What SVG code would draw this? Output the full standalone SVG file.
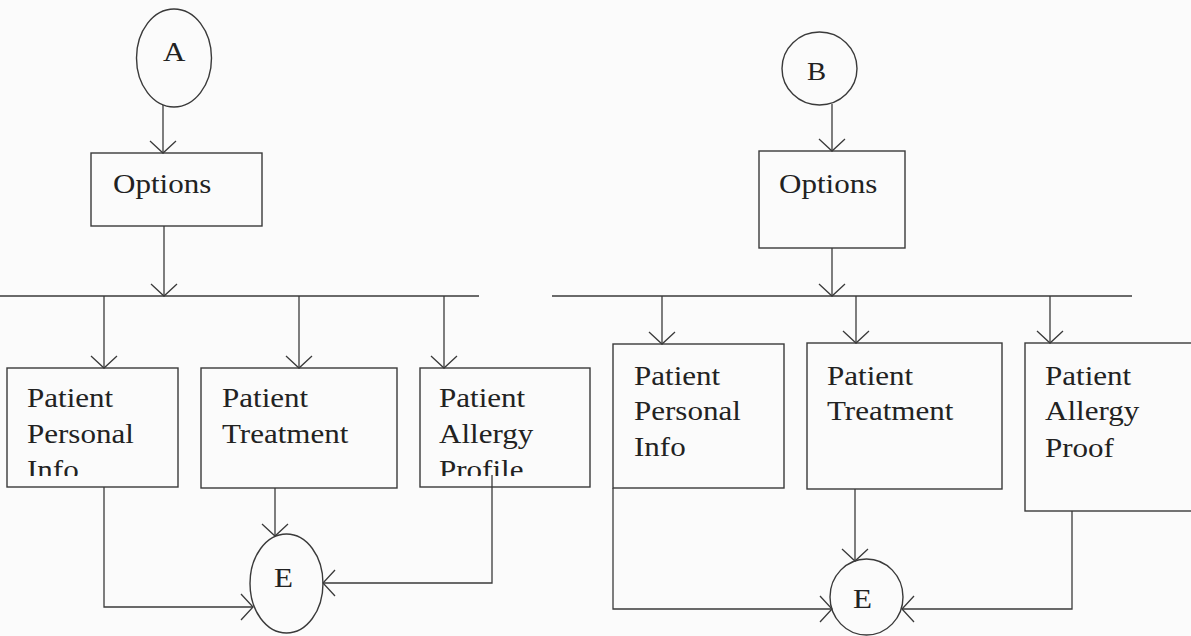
<svg xmlns="http://www.w3.org/2000/svg" width="1191" height="636" viewBox="0 0 1191 636">
  <defs>
    <marker id="arrow" viewBox="-14 -15 16 30" refX="0" refY="0" markerWidth="16" markerHeight="30" markerUnits="userSpaceOnUse" orient="auto">
      <path d="M-12,-13 L0,0 L-12,13" fill="none" stroke="#3a3a3a" stroke-width="1.3"/>
    </marker>
    <clipPath id="clipLeftRow">
      <rect x="0" y="300" width="600" height="176"/>
    </clipPath>
  </defs>
  <style>
    .box { fill: none; stroke: #3a3a3a; stroke-width: 1.4; }
    .term { fill: none; stroke: #3a3a3a; stroke-width: 1.4; }
    .wire { fill: none; stroke: #3a3a3a; stroke-width: 1.3; }
    .arr { marker-end: url(#arrow); }
    .lbl { font-family: "Liberation Serif", "Times New Roman", serif; font-size: 27px; fill: #222; }
  </style>

  <rect x="0" y="0" width="1191" height="636" fill="#fbfbfb"/>

  <!-- left chart -->
  <g id="a-start">
    <ellipse class="term" cx="174" cy="58" rx="37.5" ry="49"/>
    <text class="lbl" transform="translate(163,61) scale(1.15,1)">A</text>
  </g>
  <g id="a-options">
    <rect class="box" x="91" y="153" width="171" height="73"/>
    <text class="lbl" transform="translate(113,193) scale(1.15,1)">Options</text>
  </g>
  <g id="a-personal">
    <rect class="box" x="7" y="368" width="171" height="119"/>
    <g clip-path="url(#clipLeftRow)">
      <text class="lbl" transform="translate(27,407) scale(1.15,1)">Patient</text>
      <text class="lbl" transform="translate(27,443) scale(1.15,1)">Personal</text>
      <text class="lbl" transform="translate(27,479) scale(1.15,1)">Info</text>
    </g>
  </g>
  <g id="a-treatment">
    <rect class="box" x="201" y="368" width="196" height="120"/>
    <text class="lbl" transform="translate(222,407) scale(1.15,1)">Patient</text>
    <text class="lbl" transform="translate(222,443) scale(1.15,1)">Treatment</text>
  </g>
  <g id="a-allergy">
    <rect class="box" x="420" y="368" width="170" height="119"/>
    <g clip-path="url(#clipLeftRow)">
      <text class="lbl" transform="translate(439,407) scale(1.15,1)">Patient</text>
      <text class="lbl" transform="translate(439,443) scale(1.15,1)">Allergy</text>
      <text class="lbl" transform="translate(439,479) scale(1.15,1)">Profile</text>
    </g>
  </g>
  <g id="a-end">
    <ellipse class="term" cx="286.5" cy="583.5" rx="36.5" ry="49.5"/>
    <text class="lbl" transform="translate(274,587) scale(1.15,1)">E</text>
  </g>

  <!-- right chart -->
  <g id="b-start">
    <ellipse class="term" cx="819.5" cy="68.5" rx="37.5" ry="36.5"/>
    <text class="lbl" style="font-size:25px" transform="translate(807,80) scale(1.15,1)">B</text>
  </g>
  <g id="b-options">
    <rect class="box" x="759" y="151" width="146" height="97"/>
    <text class="lbl" transform="translate(779,193) scale(1.15,1)">Options</text>
  </g>
  <g id="b-personal">
    <rect class="box" x="613" y="344" width="171" height="144"/>
    <text class="lbl" transform="translate(634,385) scale(1.15,1)">Patient</text>
    <text class="lbl" transform="translate(634,420) scale(1.15,1)">Personal</text>
    <text class="lbl" transform="translate(634,456) scale(1.15,1)">Info</text>
  </g>
  <g id="b-treatment">
    <rect class="box" x="807" y="343" width="195" height="146"/>
    <text class="lbl" transform="translate(827,385) scale(1.15,1)">Patient</text>
    <text class="lbl" transform="translate(827,420) scale(1.15,1)">Treatment</text>
  </g>
  <g id="b-allergy">
    <rect class="box" x="1025" y="343" width="190" height="168"/>
    <text class="lbl" transform="translate(1045,385) scale(1.15,1)">Patient</text>
    <text class="lbl" transform="translate(1045,420) scale(1.15,1)">Allergy</text>
    <text class="lbl" transform="translate(1045,457) scale(1.15,1)">Proof</text>
  </g>
  <g id="b-end">
    <ellipse class="term" cx="866.5" cy="597" rx="36.5" ry="38"/>
    <text class="lbl" transform="translate(853,608) scale(1.15,1)">E</text>
  </g>

  <g id="connectors">
    <!-- left chart -->
    <path class="wire arr" d="M163,105 L163,153"/>
    <path class="wire arr" d="M164,226 L164,296"/>
    <path class="wire" d="M0,296 L479,296"/>
    <path class="wire arr" d="M104,296 L104,368"/>
    <path class="wire arr" d="M299,296 L299,368"/>
    <path class="wire arr" d="M444,296 L444,368"/>
    <path class="wire arr" d="M104,487 L104,607 L253,607"/>
    <path class="wire arr" d="M275,488 L275,536"/>
    <path class="wire arr" d="M492,475 L492,583 L323,583"/>
    <!-- right chart -->
    <path class="wire arr" d="M832,104 L832,151"/>
    <path class="wire arr" d="M832,248 L832,296"/>
    <path class="wire" d="M552,296 L1132,296"/>
    <path class="wire arr" d="M662,296 L662,344"/>
    <path class="wire arr" d="M856,296 L856,343"/>
    <path class="wire arr" d="M1050,296 L1050,343"/>
    <path class="wire arr" d="M613,488 L613,609 L832,609"/>
    <path class="wire arr" d="M855,489 L855,561"/>
    <path class="wire arr" d="M1072,511 L1072,609 L902,609"/>
  </g>
</svg>
